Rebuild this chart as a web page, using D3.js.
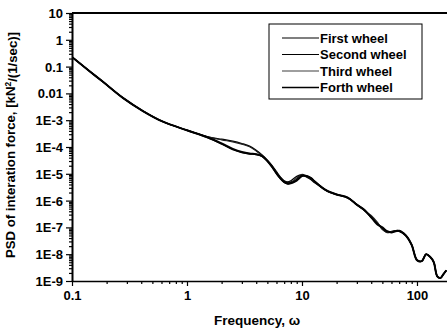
<!DOCTYPE html>
<html><head><meta charset="utf-8">
<script src="https://cdn.jsdelivr.net/npm/d3@7"></script>
<style>
body{margin:0;background:#fff}
svg{display:block}
text{font-family:"Liberation Sans",Arial,Helvetica,sans-serif;font-weight:bold;fill:#000}
</style>
</head><body><svg id="c" width="447" height="328"></svg>
<script>
// ---- data ----
const freq = [0.1,0.143,0.186,0.277,0.414,0.618,1.0,1.5,2.0,2.5,3.0,3.5,4.0,4.5,5.0,5.5,6.0,6.5,7.0,7.5,8.0,9.0,10,11,12,13,15,17,20,25,30,35,40,45,50,55,60,65,70,80,90,100,110,120,130,140,150,160,170,180];
const lowPart = [0.228,0.066,0.027,0.0068,0.0022,0.00088,0.00042];
const firstWheel = lowPart.concat([2.45e-4,1.95e-4,1.65e-4,1.35e-4,1.08e-4,7.5e-5,5e-5,3.2e-5,2e-5,1.2e-5,7.5e-6,5.5e-6,5e-6,5.5e-6,8e-6,9e-6,7.5e-6,6e-6,4.5e-6,3e-6,2.1e-6,1.7e-6,1.3e-6,7e-7,4.3e-7,2.5e-7,1.4e-7,9.5e-8,7e-8,6.5e-8,7.5e-8,7.5e-8,5e-8,2.2e-8,6e-9,5.5e-9,1e-8,8e-9,5e-9,1.5e-9,1.3e-9,1.8e-9,2.5e-9]);
const secondWheel = lowPart.concat([2.3e-4,1.3e-4,8e-5,6.2e-5,5.5e-5,5.3e-5,4.5e-5,3e-5,1.8e-5,1e-5,6.5e-6,4.8e-6,4.2e-6,4.3e-6,5.5e-6,8e-6,8.5e-6,7e-6,5e-6,3.1e-6,2.2e-6,1.7e-6,1.25e-6,7.2e-7,4.5e-7,2.3e-7,1.5e-7,8.5e-8,6.5e-8,7e-8,7.5e-8,7.2e-8,5e-8,2.2e-8,6.2e-9,5.5e-9,1e-8,8e-9,5e-9,1.5e-9,1.3e-9,1.8e-9,2.5e-9]);
const thirdWheel = lowPart.concat([2.4e-4,1.85e-4,1.55e-4,1.28e-4,1.02e-4,7e-5,4.8e-5,3.1e-5,1.9e-5,1.15e-5,7e-6,5.2e-6,4.8e-6,5e-6,7e-6,9.5e-6,8e-6,6.5e-6,4.8e-6,3e-6,2.1e-6,1.65e-6,1.3e-6,6.8e-7,4.2e-7,2.8e-7,1.6e-7,8.5e-8,6.5e-8,7e-8,7.5e-8,7.5e-8,5e-8,2.2e-8,6e-9,5.5e-9,1e-8,8e-9,5e-9,1.5e-9,1.3e-9,1.8e-9,2.5e-9]);
const forthWheel = lowPart.concat([2.3e-4,1.35e-4,8.5e-5,6.5e-5,5.7e-5,5.4e-5,4.6e-5,3e-5,1.8e-5,1.05e-5,6.8e-6,5e-6,4.4e-6,4.6e-6,6e-6,8.5e-6,8.2e-6,6.8e-6,5e-6,3e-6,2.2e-6,1.7e-6,1.3e-6,7e-7,4.4e-7,2.4e-7,1.3e-7,1e-7,7.2e-8,6.5e-8,7.2e-8,7.5e-8,5e-8,2.2e-8,6e-9,5.5e-9,1e-8,8e-9,5e-9,1.5e-9,1.3e-9,1.8e-9,2.5e-9]);
const seriesNames = ["First wheel","Second wheel","Third wheel","Forth wheel"];
const yTickValues = [10,1,0.1,0.01,1e-3,1e-4,1e-5,1e-6,1e-7,1e-8,1e-9];
const yTickLabels = ["10","1","0.1","0.01","1E-3","1E-4","1E-5","1E-6","1E-7","1E-8","1E-9"];
const xTickValues = [0.1,1,10,100];
const xTickLabels = ["0.1","1","10","100"];

// ---- drawing ----
const svg = d3.select("#c");
const x = d3.scaleLog().domain([0.1,200]).range([72,451.6]);
const y = d3.scaleLog().domain([1e-9,10]).range([281,13]);

const minorX = [], minorY = [];
for (let e=-1;e<=2;e++) for (let m=2;m<=9;m++){ const v=m*Math.pow(10,e); if (v<200) minorX.push(v); }
for (let e=-9;e<=0;e++) for (let m=2;m<=9;m++) minorY.push(m*Math.pow(10,e));

// top frame line
svg.append("line").attr("x1",72).attr("x2",447).attr("y1",y(10)).attr("y2",y(10))
  .attr("stroke","#000").attr("stroke-width",2);

// x axis
const gx = svg.append("g").attr("transform",`translate(0,${y(1e-9)})`);
gx.call(d3.axisBottom(x).tickValues(minorX).tickSize(3).tickFormat(""));
gx.call(g=>g.select(".domain").remove());
const gx2 = svg.append("g").attr("transform",`translate(0,${y(1e-9)})`);
gx2.call(d3.axisBottom(x).tickValues(xTickValues).tickSize(5).tickSizeOuter(0)
  .tickFormat((d,i)=>xTickLabels[i]));
gx2.select(".domain").attr("stroke-width",1.6);
gx2.selectAll("text").attr("y",19).attr("dy",0).style("font-size","13px")
  .style("font-family","'Liberation Sans',Arial,sans-serif").style("font-weight","bold");

// y axis
const gy = svg.append("g").attr("transform",`translate(${x(0.1)},0)`);
gy.call(d3.axisLeft(y).tickValues(minorY).tickSize(3).tickFormat(""));
gy.call(g=>g.select(".domain").remove());
const gy2 = svg.append("g").attr("transform",`translate(${x(0.1)},0)`);
gy2.call(d3.axisLeft(y).tickValues(yTickValues).tickSize(6).tickSizeOuter(0)
  .tickFormat((d,i)=>yTickLabels[i]));
gy2.select(".domain").attr("stroke-width",2);
gy2.selectAll("text").attr("x",-9).attr("dy","0.35em").style("font-size","13px")
  .style("font-family","'Liberation Sans',Arial,sans-serif").style("font-weight","bold");
svg.selectAll(".tick line").attr("stroke-width",1.2);

// series
const allSeries = [firstWheel, secondWheel, thirdWheel, forthWheel];
const widths = [1.3, 1.5, 1.1, 2.0];
const colors = ["#000","#000","#222","#000"];
const line = d3.line().x(d=>x(d[0])).y(d=>y(d[1])).curve(d3.curveCatmullRom.alpha(0.5));
svg.append("defs").append("clipPath").attr("id","clip")
  .append("rect").attr("x",72).attr("y",13).attr("width",380).attr("height",268);
const gl = svg.append("g").attr("clip-path","url(#clip)");
allSeries.forEach((s,i)=>{
  gl.append("path").datum(freq.map((f,j)=>[f,s[j]]))
    .attr("d",line).attr("fill","none").attr("stroke",colors[i]).attr("stroke-width",widths[i])
    .attr("stroke-linejoin","round");
});

// legend
const lg = svg.append("g");
lg.append("rect").attr("x",269).attr("y",24).attr("width",153).attr("height",75)
  .attr("fill","#fff").attr("stroke","#000").attr("stroke-width",1);
seriesNames.forEach((n,i)=>{
  const yy = 38 + i*16.5;
  lg.append("line").attr("x1",282).attr("x2",319).attr("y1",yy).attr("y2",yy)
    .attr("stroke",colors[i]).attr("stroke-width",widths[i]*0.8);
  lg.append("text").attr("x",320).attr("y",yy).attr("dy","0.35em").style("font-size","13px").text(n);
});

// axis titles
svg.append("text").attr("x",257).attr("y",325).attr("text-anchor","middle").style("font-size","13.5px")
  .text("Frequency, ω");
const yt = svg.append("text").attr("transform","translate(15,145) rotate(-90)")
  .attr("text-anchor","middle").style("font-size","13.2px");
yt.append("tspan").text("PSD of interation force, [kN");
yt.append("tspan").attr("dy","-0.45em").style("font-size","8.5px").text("2");
yt.append("tspan").attr("dy","0.45em").text("/(1/sec)]");
</script></body></html>
